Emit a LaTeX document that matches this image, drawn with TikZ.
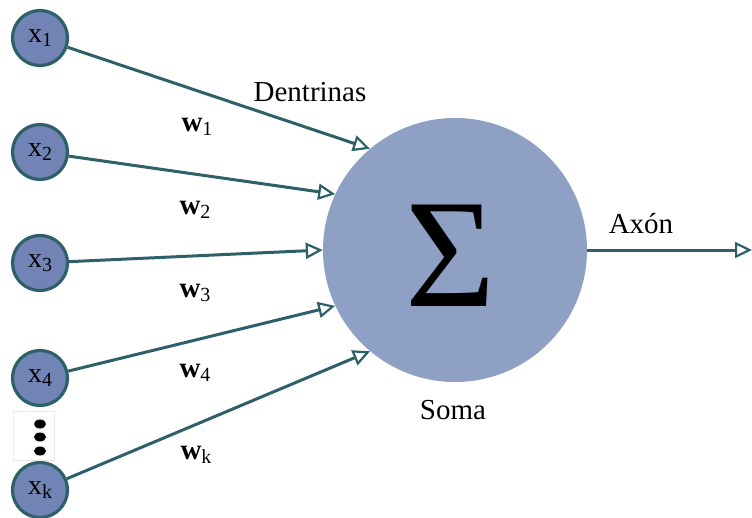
\documentclass[tikz,border=0pt]{standalone}
\usepackage{fontspec}
\setmainfont{Liberation Serif}
\usetikzlibrary{arrows.meta}
\definecolor{somafill}{HTML}{8FA0C5}
\definecolor{infill}{HTML}{7284B6}
\definecolor{teal}{HTML}{2E6069}
\newcommand{\subsc}[1]{\raisebox{-0.3ex}{\fontsize{20}{20}\selectfont\mdseries #1}}
\tikzset{
  input/.style={circle, draw=teal, line width=3.2pt, fill=infill, minimum size=55pt, inner sep=0pt, font=\fontsize{28}{28}\selectfont},
  dendrite/.style={draw=teal, line width=3pt, -{Triangle[open, length=17pt, width=16pt, fill=white, line width=2.2pt]}},
  lbl/.style={font=\fontsize{29}{29}\selectfont, inner sep=0pt},
  wlbl/.style={font=\fontsize{29}{29}\selectfont\bfseries, inner sep=0pt}
}
\begin{document}
\begin{tikzpicture}[x=1pt, y=-1pt]
  \useasboundingbox (0,0) rectangle (752,517);
  % cell body
  \node[circle, fill=somafill, minimum size=264pt, inner sep=0pt] (soma) at (455,250) {};
  \node[font=\fontsize{155}{155}\selectfont, inner sep=0pt] (sigma) at (451,256) {Σ};
  % inputs
  \node[input] (x1) at (40,38) {x\subsc{1}};
  \node[input] (x2) at (40,152) {x\subsc{2}};
  \node[input] (x3) at (40,263) {x\subsc{3}};
  \node[input] (x4) at (40,378) {x\subsc{4}};
  \node[input] (xk) at (40,490) {x\subsc{k}};
  % ellipsis between x4 and xk
  \draw[black!8, line width=0.6pt] (13,411) rectangle (54,460);
  \foreach \yy in {424,437,451} \fill[black] (40,\yy) ellipse (6pt and 4.5pt);
  % dendrites
  \draw[dendrite] (x1) -- (soma.130);
  \draw[dendrite] (x2) -- (soma.155);
  \draw[dendrite] (x3) -- (soma.180);
  \draw[dendrite] (x4) -- (soma.205);
  \draw[dendrite] (xk) -- (soma.230);
  % axon
  \coordinate (axend) at (752,250);
  \draw[dendrite] (soma.east) -- (axend);
  % labels
  \node[lbl] (dent) at (310,92) {Dentrinas};
  \node[lbl] (axon) at (641,224) {Axón};
  \node[lbl] (somalbl) at (453,410) {Soma};
  \node[wlbl] (w1) at (197,127) {w\subsc{1}};
  \node[wlbl] (w2) at (195,210) {w\subsc{2}};
  \node[wlbl] (w3) at (195,293) {w\subsc{3}};
  \node[wlbl] (w4) at (195,373) {w\subsc{4}};
  \node[wlbl] (wk) at (196,455) {w\subsc{k}};
\end{tikzpicture}
\end{document}
